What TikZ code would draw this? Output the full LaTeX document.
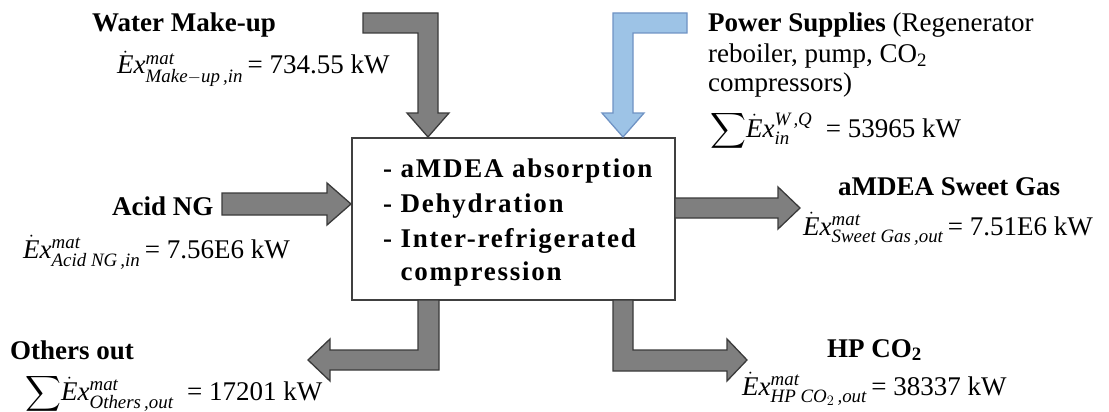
\documentclass[tikz,border=0pt]{standalone}
\usepackage{amsmath}
\usepackage{fontspec}
\setmainfont{Liberation Serif}
\newfontfamily\boxfont[LetterSpace=6.5]{Liberation Serif}
\newcommand{\exq}[2]{$\dot{\text{\itshape E}}\text{\itshape x}^{\text{\itshape #1}}_{\text{\itshape #2}}$}
\definecolor{arrowgray}{HTML}{7F7F7F}
\definecolor{arrowedge}{HTML}{3A3A3A}
\definecolor{arrowblue}{HTML}{9DC3E6}
\definecolor{blueedge}{HTML}{6F93C4}
\definecolor{boxedge}{HTML}{404040}
\begin{document}
\begin{tikzpicture}[x=1pt,y=-1pt,
  grayarrow/.style={fill=arrowgray, draw=arrowedge, line width=1.3pt, line join=miter},
  bluearrow/.style={fill=arrowblue, draw=blueedge, line width=1.3pt, line join=miter},
  lbl/.style={anchor=base west, inner sep=0pt, font=\fontsize{27}{31}\selectfont},
  ttl/.style={anchor=base west, inner sep=0pt, font=\fontsize{27}{31}\selectfont\bfseries},
  boxtxt/.style={anchor=base west, inner sep=0pt, font=\fontsize{27}{31}\selectfont\boxfont\bfseries},
  procbox/.style={draw=boxedge, line width=1.3pt, fill=white, minimum width=323pt, minimum height=162pt, inner sep=0pt}
]
\useasboundingbox (0,0) rectangle (1109,412);

% process box
\node[procbox] (proc) at (513.5,219) {};

% Water make-up arrow
\draw[grayarrow] (363,13) -- (438,13) -- (438,113) -- (449,113) -- (428,137) -- (407,113) -- (418,113) -- (418,33) -- (363,33) -- cycle;
% Power supplies arrow
\draw[bluearrow] (687,13) -- (613,13) -- (613,113) -- (602,113) -- (623,137) -- (644,113) -- (633,113) -- (633,33) -- (687,33) -- cycle;
% Acid NG arrow
\draw[grayarrow] (222,193) -- (327,193) -- (327,183) -- (351,204) -- (327,225) -- (327,215) -- (222,215) -- cycle;
% Sweet gas arrow
\draw[grayarrow] (675,198) -- (778,198) -- (778,187) -- (800,208) -- (778,229) -- (778,218) -- (675,218) -- cycle;
% Others out arrow
\draw[grayarrow] (418,300) -- (439,300) -- (439,370) -- (330,370) -- (330,381) -- (308,360) -- (330,339) -- (330,350) -- (418,350) -- cycle;
% HP CO2 arrow
\draw[grayarrow] (633,300) -- (613,300) -- (613,371) -- (727,371) -- (727,381) -- (747,360) -- (727,339) -- (727,350) -- (633,350) -- cycle;

% box text
\node[boxtxt] (b1) at (383,177) {- aMDEA absorption};
\node[boxtxt] (b2) at (383,212) {- Dehydration};
\node[boxtxt] (b3) at (383,247) {- Inter-refrigerated};
\node[boxtxt] (b4) at (383,280) {\phantom{- }compression};

% labels
\node[ttl] (wt) at (92,32) {Water Make-up};
\node[lbl] (we) at (117,74) {\exq{mat}{Make$-$up\,,in}\,= 734.55 kW};

\node[lbl] (p1) at (708,32) {\textbf{Power Supplies} (Regenerator};
\node[lbl] (p2) at (708,63) {reboiler, pump, CO\textsubscript{2}};
\node[lbl] (p3) at (708,92) {compressors)};
\node[lbl] (p4) at (710,137) {$\displaystyle\sum$\exq{W\,,Q}{in}\ \ = 53965 kW};

\node[ttl] (at) at (112,215) {Acid NG};
\node[lbl] (ae) at (23,258) {\exq{mat}{Acid NG\,,in}\,= 7.56E6 kW};

\node[ttl] (st) at (838,195) {aMDEA Sweet Gas};
\node[lbl] (se) at (803,235) {\exq{mat}{Sweet Gas\,,out}\,= 7.51E6 kW};

\node[ttl] (ot) at (10,359) {Others out};
\node[lbl] (oe) at (25,400) {$\displaystyle\sum$\exq{mat}{Others\,,out}\ \ = 17201 kW};

\node[ttl] (ht) at (827,357) {HP CO\textsubscript{2}};
\node[lbl] (he) at (742,395) {\exq{mat}{HP CO$_2$\,,out}\,= 38337 kW};
\end{tikzpicture}
\end{document}
